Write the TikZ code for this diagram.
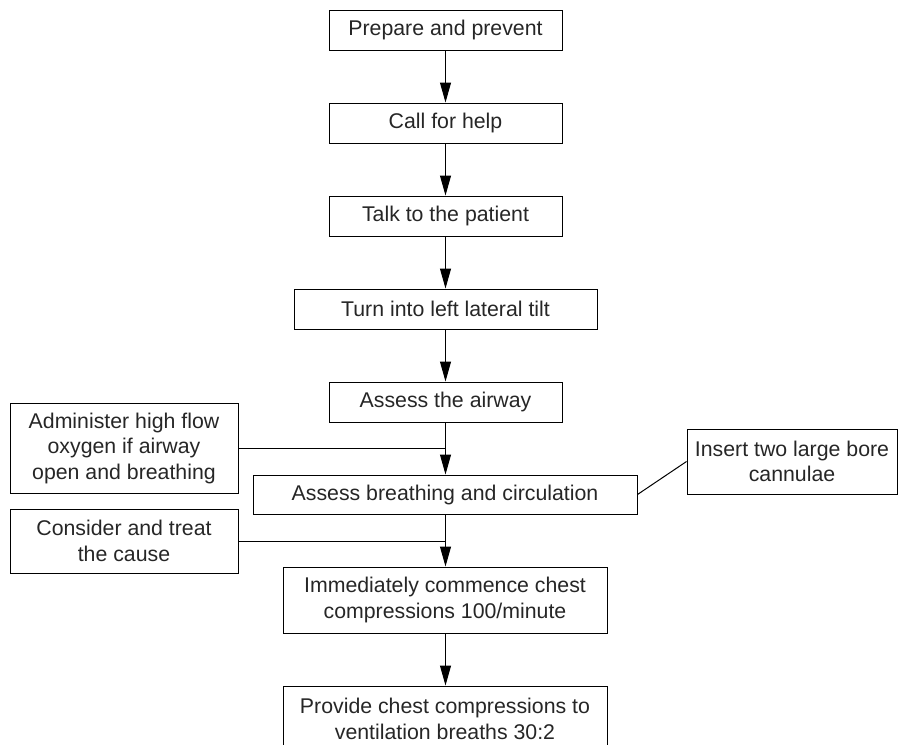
\documentclass[tikz,border=0pt]{standalone}
\usepackage{fontspec}
\setmainfont{Liberation Sans}
\usetikzlibrary{arrows.meta}
\begin{document}
\begin{tikzpicture}[x=1pt,y=-1pt,
  box/.style={draw=black, line width=1pt, rectangle, inner sep=0pt, align=center,
    font=\fontsize{21.3pt}{25.5pt}\selectfont, text=black!85},
  flow/.style={line width=1pt, -{Triangle[length=20pt,width=11pt]}},
  link/.style={line width=1pt}]
\clip (0,0) rectangle (907,744);
\node[box, minimum width=233pt, minimum height=40pt] (prep) at (445.5,30) {Prepare and prevent};
\node[box, minimum width=233pt, minimum height=40pt] (help) at (445.5,123) {Call for help};
\node[box, minimum width=233pt, minimum height=40pt] (talk) at (445.5,216) {Talk to the patient};
\node[box, minimum width=303pt, minimum height=40pt] (turn) at (445.5,309) {Turn into left lateral tilt};
\node[box, minimum width=233pt, minimum height=40pt] (airway) at (445.5,402) {Assess the airway};
\node[box, minimum width=384pt, minimum height=39pt] (breath) at (445,494.5) {Assess breathing and circulation};
\node[box, minimum width=228pt, minimum height=90pt] (admin) at (124,448) {Administer high flow\\oxygen if airway\\open and breathing};
\node[box, minimum width=210pt, minimum height=65pt] (insert) at (792,461.5) {Insert two large bore\\cannulae};
\node[box, minimum width=228pt, minimum height=64pt] (consider) at (124,541) {Consider and treat\\the cause};
\node[box, minimum width=324pt, minimum height=66pt] (immed) at (445,600) {Immediately commence chest\\compressions 100/minute};
\node[box, minimum width=324pt, minimum height=66pt] (provide) at (445,719) {Provide chest compressions to\\ventilation breaths 30:2};
\draw[flow] (prep.south) -- (help.north);
\draw[flow] (help.south) -- (talk.north);
\draw[flow] (talk.south) -- (turn.north);
\draw[flow] (turn.south) -- (airway.north);
\draw[flow] (airway.south) -- (airway.south |- breath.north);
\draw[flow] (breath.south -| airway.south) -- (airway.south |- immed.north);
\draw[flow] (immed.south -| airway.south) -- (airway.south |- provide.north);
\draw[link] (admin.east) -- (admin.east -| airway.south);
\draw[link] (consider.east) -- (consider.east -| airway.south);
\draw[link] (breath.east) -- (insert.west);
\end{tikzpicture}
\end{document}
